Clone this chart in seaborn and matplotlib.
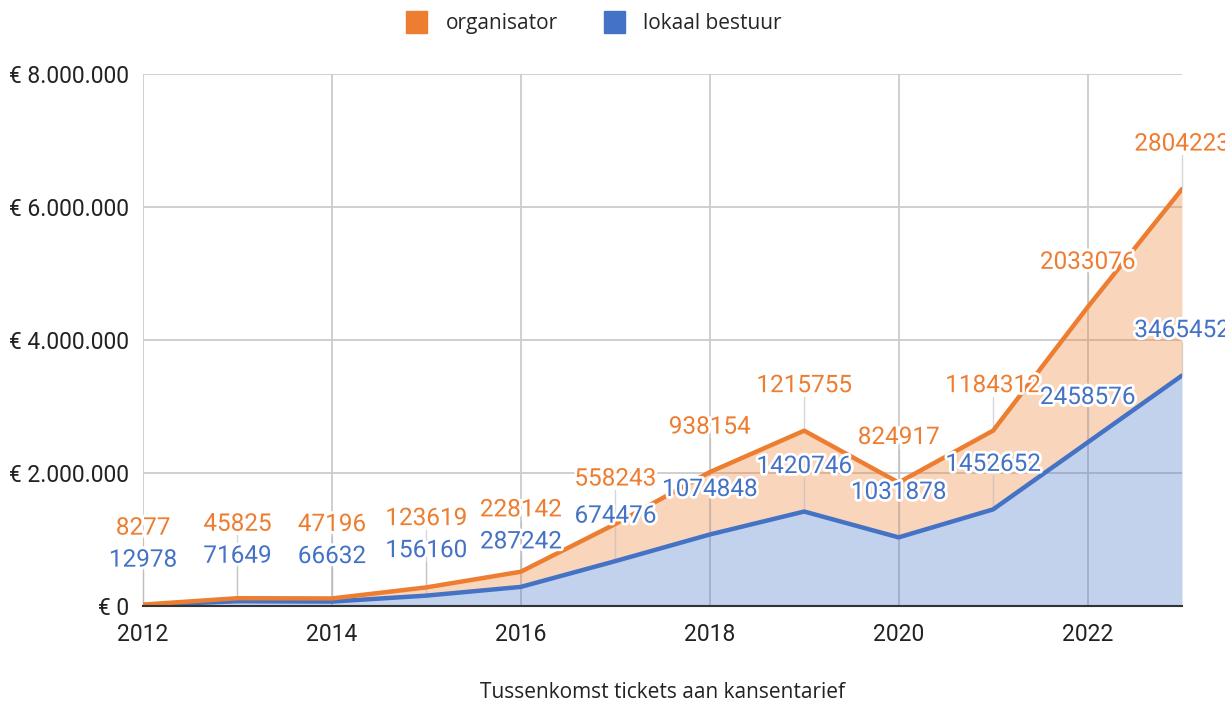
import numpy as np
import pandas as pd
import matplotlib
matplotlib.use("Agg")
import matplotlib.pyplot as plt
import matplotlib.patheffects as pe
from matplotlib.patches import Patch
from matplotlib.ticker import FuncFormatter
import seaborn as sns

# Data
years = [2012, 2013, 2014, 2015, 2016, 2017, 2018, 2019, 2020, 2021, 2022, 2023]
lokaal_bestuur = [12978, 71649, 66632, 156160, 287242, 674476, 1074848,
                  1420746, 1031878, 1452652, 2458576, 3465452]
organisator = [8277, 45825, 47196, 123619, 228142, 558243, 938154,
               1215755, 824917, 1184312, 2033076, 2804223]

ORANGE = "#ED7D31"
BLUE = "#4472C4"

sns.set_theme(style="white")
plt.rcParams['font.family'] = ['Roboto', 'DejaVu Sans']

df = pd.DataFrame({"year": years, "lokaal": lokaal_bestuur, "organisator": organisator})
df["top"] = df["lokaal"] + df["organisator"]

fig = plt.figure(figsize=(12.25, 7.04), dpi=100)
ax = fig.add_axes([0.1167, 0.1392, 0.8482, 0.7557])

# stacked areas
ax.fill_between(df["year"], 0, df["lokaal"], color=BLUE, alpha=0.32, lw=0, zorder=2)
ax.fill_between(df["year"], df["lokaal"], df["top"], color=ORANGE, alpha=0.32, lw=0, zorder=2)
sns.lineplot(data=df, x="year", y="lokaal", color=BLUE, lw=3.2, ax=ax, zorder=4)
sns.lineplot(data=df, x="year", y="top", color=ORANGE, lw=3.2, ax=ax, zorder=4)

ax.set_xlim(2012, 2023)
ax.set_ylim(0, 8_000_000)
ax.set_xticks(range(2012, 2023, 2))
ax.set_yticks(range(0, 8_000_001, 2_000_000))
ax.yaxis.set_major_formatter(FuncFormatter(lambda v, _: "€ " + f"{int(v):,}".replace(",", ".")))

ax.grid(True, color="#cccccc", lw=1.3, zorder=0)
ax.set_axisbelow(True)
for s in ["top", "right", "left"]:
    ax.spines[s].set_visible(False)
ax.spines["bottom"].set_color("#333333")
ax.spines["bottom"].set_linewidth(1.5)
ax.spines["bottom"].set_zorder(5)
ax.tick_params(axis="both", length=0, colors="#222222")
ax.tick_params(axis="x", pad=12, labelsize=16.5)
ax.tick_params(axis="y", pad=10, labelsize=16.5)

ax.set_xlabel("Tussenkomst tickets aan kansentarief", fontsize=15,
              family=['Open Sans', 'DejaVu Sans'], labelpad=26, color="#222222")
ax.set_ylabel("")

# annotations: labels above points, orange pushed up to clear the blue one
px = 8_000_000 / 532.0
halo = [pe.withStroke(linewidth=4, foreground="white")]
for _, r in df.iterrows():
    b_lab = r["lokaal"] + 45 * px
    o_lab = max(r["top"] + 45 * px, b_lab + 32 * px)
    ax.plot([r["year"], r["year"]], [r["lokaal"], b_lab - 11 * px],
            color="#bbbbbb", lw=1, alpha=0.6, zorder=3, clip_on=False)
    ax.plot([r["year"], r["year"]], [r["top"], o_lab - 11 * px],
            color="#bbbbbb", lw=1, alpha=0.6, zorder=3, clip_on=False)
    ax.text(r["year"], b_lab, f"{int(r['lokaal'])}", color=BLUE, fontsize=17.5,
            ha="center", va="center", path_effects=halo, zorder=6, clip_on=False)
    ax.text(r["year"], o_lab, f"{int(r['organisator'])}", color=ORANGE, fontsize=17.5,
            ha="center", va="center", path_effects=halo, zorder=6, clip_on=False)

handles = [Patch(facecolor=ORANGE, edgecolor=ORANGE, label="organisator"),
           Patch(facecolor=BLUE, edgecolor=BLUE, label="lokaal bestuur")]
fig.legend(handles=handles, loc="center", bbox_to_anchor=(0.485, 0.968), ncol=2,
           frameon=False, handlelength=1.0, handleheight=1.2, handletextpad=0.9,
           columnspacing=2.2, prop={"family": ['Open Sans', 'DejaVu Sans'], "size": 15})

fig.savefig("out.png", dpi=100)
